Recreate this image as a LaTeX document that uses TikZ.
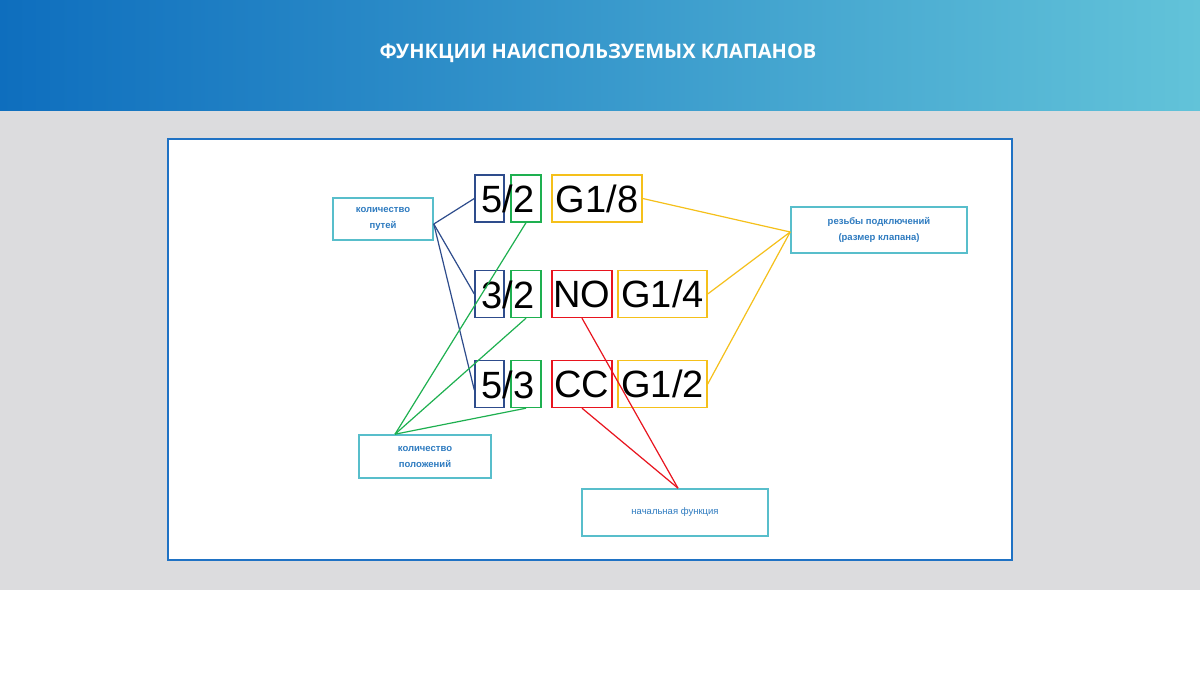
\documentclass[tikz,border=0pt]{standalone}
\usepackage{fontspec}
\setmainfont{Liberation Sans}
\newfontfamily\titlefont{Open Sans}
\usetikzlibrary{positioning}
\definecolor{hdrleft}{HTML}{0E6EBE}
\definecolor{hdrright}{HTML}{62C3D9}
\definecolor{bandgray}{HTML}{DCDCDE}
\definecolor{frameblue}{HTML}{1F72C4}
\definecolor{tealbox}{HTML}{58BECB}
\definecolor{labeltext}{HTML}{2E7BC0}
\definecolor{wayblue}{HTML}{2E4C8C}
\definecolor{posgreen}{HTML}{1EB050}
\definecolor{threadyellow}{HTML}{F5C01A}
\definecolor{funcred}{HTML}{E8141E}
\tikzset{
  cell/.style={draw, line width=1.4pt, inner sep=0pt, minimum height=47pt},
  bigtext/.style={font=\fontsize{38}{40}\selectfont, inner sep=0pt},
  callout/.style={draw=tealbox, line width=1.6pt, fill=white, inner sep=0pt,
    text=labeltext, align=center, font=\fontsize{9.5}{16}\selectfont\bfseries},
  link/.style={line width=1.2pt}
}
\begin{document}
\begin{tikzpicture}[x=1pt,y=-1pt]
    % Background and header
    \useasboundingbox (0,0) rectangle (1200,687);
    \fill[white] (0,0) rectangle (1200,687);
    \shade[left color=hdrleft, right color=hdrright] (0,0) rectangle (1200,111);
    \fill[bandgray] (0,111) rectangle (1200,590);
    \node[text=white, font=\titlefont\fontsize{20}{24}\selectfont\bfseries] (title) at (598,53) {ФУНКЦИИ НАИСПОЛЬЗУЕМЫХ КЛАПАНОВ};
    \draw[frameblue, line width=1.8pt, fill=white] (168,139) rectangle (1012,560);

    % Cells
    \foreach \row/\yc in {a/198.5, b/294, c/384} {
        \node[cell, draw=wayblue, minimum width=29pt] (way\row) at (489.5,\yc) {};
        \node[cell, draw=posgreen, minimum width=30pt] (pos\row) at (526,\yc) {};
    }
    \node[cell, draw=threadyellow, minimum width=90pt] (thra) at (597,198.5) {};
    \node[cell, draw=threadyellow, minimum width=89pt] (thrb) at (662.5,294) {};
    \node[cell, draw=threadyellow, minimum width=89pt] (thrc) at (662.5,384) {};
    \node[cell, draw=funcred, minimum width=60pt] (funb) at (582,294) {};
    \node[cell, draw=funcred, minimum width=60pt] (func) at (582,384) {};

    % Big texts
    \node[bigtext] (txa) at (508,199) {5/2};
    \node[bigtext] (txb) at (508,294.5) {3/2};
    \node[bigtext] (txc) at (508,384.5) {5/3};
    \node[bigtext] at (thra) {G1/8};
    \node[bigtext] at (thrb) {G1/4};
    \node[bigtext] at (thrc) {G1/2};
    \node[bigtext] at (funb) {NO};
    \node[bigtext] at (func) {CC};

    % Callouts
    \node[callout, minimum width=100pt, minimum height=42pt] (ways) at (383,219) {количество\\путей};
    \node[callout, minimum width=176pt, minimum height=46pt] (threads) at (879,230) {резьбы подключений\\(размер клапана)};
    \node[callout, minimum width=132pt, minimum height=43pt] (positions) at (425,456.5) {количество\\положений};
    \node[callout, minimum width=186pt, minimum height=47pt, font=\fontsize{9.5}{12}\selectfont] (initial) at (675,512.5) {начальная функция};

    % Connectors
    \draw[link, wayblue] (ways.east) ++(0,5) coordinate (wy) (wy) -- (waya.west);
    \draw[link, wayblue] (wy) -- ([yshift=0pt]wayb.west);
    \draw[link, wayblue] (wy) -- ([yshift=-6pt]wayc.west);
    \coordinate (ps) at ([xshift=-30pt]positions.north);
    \foreach \row in {a,b,c} \draw[link, posgreen] (ps) -- (pos\row.south);
    \coordinate (th) at ([yshift=-2pt]threads.west);
    \draw[link, threadyellow] (th) -- (thra.east);
    \draw[link, threadyellow] (th) -- (thrb.east);
    \draw[link, threadyellow] (th) -- (thrc.east);
    \coordinate (fn) at ([xshift=3pt]initial.north);
    \draw[link, funcred] (fn) -- (funb.south);
    \draw[link, funcred] (fn) -- (func.south);
\end{tikzpicture}
\end{document}
